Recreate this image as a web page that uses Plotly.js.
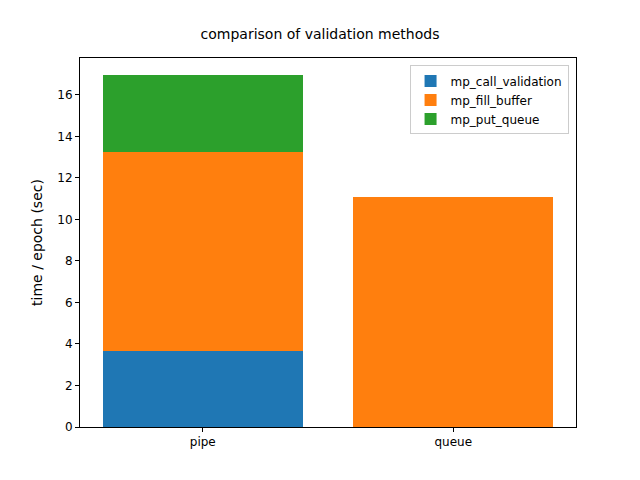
<!DOCTYPE html>
<html>
<head>
<script src="https://cdn.plot.ly/plotly-3.0.1.min.js"></script>
<style>body{margin:0}</style>
</head>
<body>
<div id="myChart" style="width:640px;height:480px"></div>
<script>
var categories = ["pipe", "queue"];
var callValidation = [3.66, 0];
var fillBuffer = [9.59, 11.08];
var putQueue = [3.71, 0];

var data = [
  {x: categories, y: callValidation, name: "mp_call_validation", type: "bar", marker: {color: "#1f77b4"}},
  {x: categories, y: fillBuffer, name: "mp_fill_buffer", type: "bar", marker: {color: "#ff7f0e"}},
  {x: categories, y: putQueue, name: "mp_put_queue", type: "bar", marker: {color: "#2ca02c"}}
];

var layout = {
  barmode: "stack",
  bargap: 0.2,
  font: {family: "DejaVu Sans", size: 12, color: "#000"},
  title: {text: "comparison of validation methods", font: {size: 14}, x: 0.5, y: 0.93, yanchor: "middle"},
  margin: {l: 80, r: 64, t: 58, b: 53},
  xaxis: {
    type: "category", range: [-0.49, 1.49],
    showline: true, mirror: true, linecolor: "#000", linewidth: 1,
    ticks: "outside", ticklen: 4, tickcolor: "#000", showgrid: false
  },
  yaxis: {
    title: {text: "time / epoch (sec)"},
    range: [0, 17.78], dtick: 2,
    showline: true, mirror: true, linecolor: "#000", linewidth: 1,
    ticks: "outside", ticklen: 4, tickcolor: "#000", showgrid: false, zeroline: false
  },
  legend: {
    x: 0.985, y: 0.98, xanchor: "right", yanchor: "top",
    bordercolor: "#ccc", borderwidth: 1, bgcolor: "rgba(255,255,255,0.8)",
    traceorder: "normal"
  },
  showlegend: true
};

Plotly.newPlot("myChart", data, layout, {displayModeBar: false});
</script>
</body>
</html>
